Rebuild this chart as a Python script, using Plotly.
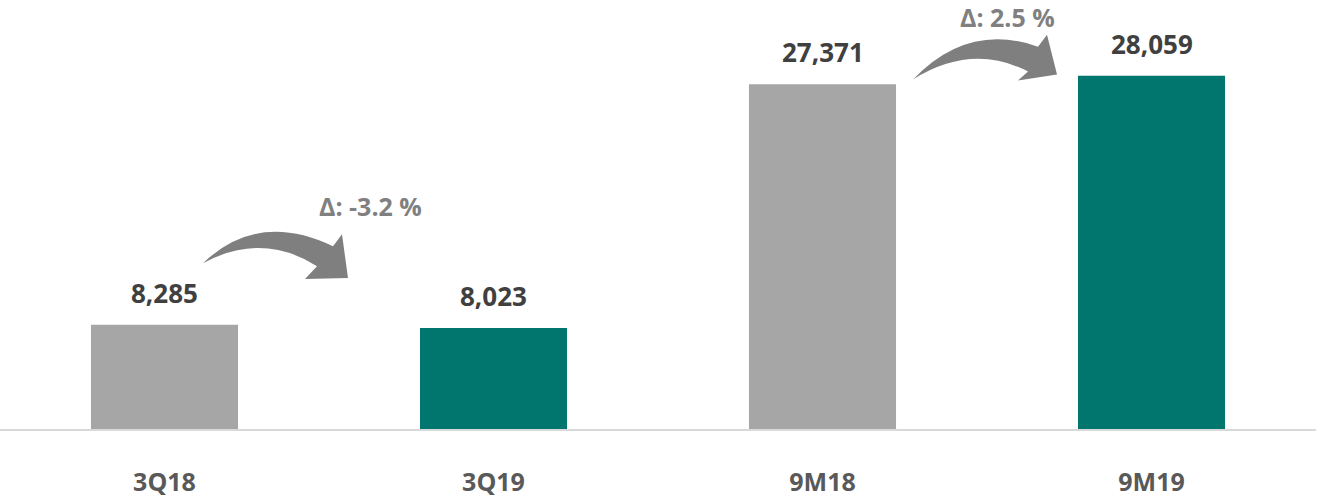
import plotly.graph_objects as go

# data
periods = ['3Q18', '3Q19', '9M18', '9M19']
values = [8285, 8023, 27371, 28059]
bar_colors = ['#a6a6a6', '#00766e', '#a6a6a6', '#00766e']
change_labels = ['Δ: -3.2 %', 'Δ: 2.5 %']

W, H = 1318, 498
M_L, M_R, M_T, M_B = 0, 2, 0, 66
PW, PH = W - M_L - M_R, H - M_T - M_B


def px(x, y):
    # pixel position -> paper coordinates
    return (x - M_L) / PW, (H - M_B - y) / PH


def arrow_path(pts):
    p = [px(*pt) for pt in pts]
    (t, c1, u, hu, tip, hl, lo, c2) = p
    return (f'M {t[0]},{t[1]} Q {c1[0]},{c1[1]} {u[0]},{u[1]} '
            f'L {hu[0]},{hu[1]} L {tip[0]},{tip[1]} L {hl[0]},{hl[1]} '
            f'L {lo[0]},{lo[1]} Q {c2[0]},{c2[1]} {t[0]},{t[1]} Z')


fig = go.Figure()
fig.add_trace(go.Bar(x=periods, y=values, marker_color=bar_colors,
                     marker_line_width=0, width=0.447))

for p, v in zip(periods, values):
    fig.add_annotation(x=p, y=v, text=f'<b>{v:,}</b>', showarrow=False,
                       yanchor='bottom', yshift=12,
                       font=dict(family='Open Sans', size=26, color='#404040'))

# curved arrows
arrows = [
    [(203, 265), (258, 212), (333, 248), (342, 236), (348, 280), (305, 281), (317, 268), (262, 233)],
    [(913, 80), (968, 22), (1038, 47), (1047, 35), (1057, 75), (1018, 81), (1028, 72), (972, 43)],
]
for a in arrows:
    fig.add_shape(type='path', xref='paper', yref='paper', path=arrow_path(a),
                  fillcolor='#7f7f7f', line=dict(width=0))

label_pos = [(370, 207), (1007, 17)]
for txt, (x, y) in zip(change_labels, label_pos):
    xp, yp = px(x, y)
    fig.add_annotation(x=xp, y=yp, xref='paper', yref='paper', text=f'<b>{txt}</b>',
                       showarrow=False, xanchor='center', yanchor='middle',
                       font=dict(family='Open Sans', size=25, color='#808080'))

fig.update_layout(
    width=W, height=H,
    margin=dict(l=M_L, r=M_R, t=M_T, b=M_B),
    plot_bgcolor='white', paper_bgcolor='white',
    showlegend=False,
    bargap=0.553,
    xaxis=dict(showline=True, linecolor='#d9d9d9', linewidth=2, ticks='',
               tickfont=dict(family='Open Sans', size=25, color='#595959', weight='bold'),
               ticklabelstandoff=30),
    yaxis=dict(range=[0, 34070], visible=False, showgrid=False),
)
fig.write_html('out.html', config={'displayModeBar': False},
               post_script="document.body.style.margin='0';")
